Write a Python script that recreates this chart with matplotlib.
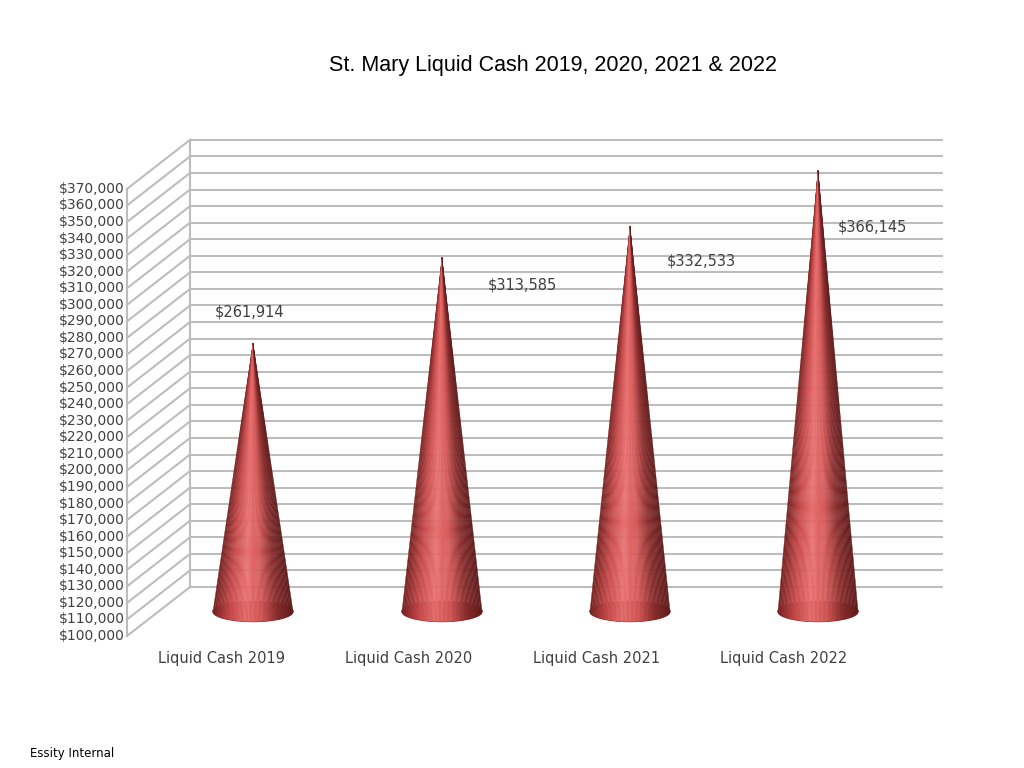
import numpy as np
import matplotlib.pyplot as plt
from matplotlib.patches import Polygon, Ellipse
from matplotlib.colors import LinearSegmentedColormap

categories = ["Liquid Cash 2019", "Liquid Cash 2020", "Liquid Cash 2021", "Liquid Cash 2022"]
values = [261914, 313585, 332533, 366145]
value_labels = ["$261,914", "$313,585", "$332,533", "$366,145"]
ticks = list(range(100000, 370001, 10000))

# pixel layout of the fake 3d box
Y0, PX_PER_10K = 636, 16.56
AX_X, BACK_X, BACK_R = 127, 190, 942
DEPTH_DX, DEPTH_DY = 63, -49
cone_x = [253, 442, 630, 818]
label_pos = [(250, 312), (522, 285), (701, 261), (872, 227)]


def yval(v):
    return Y0 - (v - 100000) / 10000 * PX_PER_10K


fig = plt.figure(figsize=(10.24, 7.68), dpi=100)
ax = fig.add_axes([0, 0, 1, 1])
ax.set_xlim(0, 1024)
ax.set_ylim(768, 0)
ax.axis('off')

grid_c = '#bdbdbd'
for t in ticks:
    y = yval(t)
    ax.plot([AX_X, BACK_X], [y, y + DEPTH_DY], color=grid_c, lw=1.5)
    ax.plot([BACK_X, BACK_R], [y + DEPTH_DY, y + DEPTH_DY], color=grid_c, lw=1.5)
    ax.text(AX_X - 2, y, "${:,}".format(t), ha='right', va='center', fontsize=10, color='#404040')
ax.plot([AX_X, AX_X], [yval(ticks[0]), yval(ticks[-1])], color=grid_c, lw=1.5)
ax.plot([BACK_X, BACK_X], [yval(ticks[0]) + DEPTH_DY, yval(ticks[-1]) + DEPTH_DY], color=grid_c, lw=1.5)

cmap = LinearSegmentedColormap.from_list('cone', ['#7a2424', '#c94b4b', '#e87070', '#d65a5a', '#8a2e2e', '#5e1a1a'])
half_w, ell_h, n = 40, 20, 60
for cx, v in zip(cone_x, values):
    base_y = Y0 + DEPTH_DY / 2
    tip_y = yval(v) + DEPTH_DY / 2
    ax.add_patch(Ellipse((cx, base_y), 2 * half_w, ell_h, color='#6e2020', zorder=3))
    xs = np.linspace(-half_w, half_w, n + 1)
    for i in range(n):
        x1, x2 = xs[i], xs[i + 1]
        yb1 = base_y + ell_h / 2 * np.sqrt(max(0, 1 - (x1 / half_w) ** 2))
        yb2 = base_y + ell_h / 2 * np.sqrt(max(0, 1 - (x2 / half_w) ** 2))
        ax.add_patch(Polygon([(cx, tip_y), (cx + x1, yb1), (cx + x2, yb2)], closed=True,
                             color=cmap(i / n), lw=0.3, zorder=4))

for (lx, ly), lab in zip(label_pos, value_labels):
    ax.text(lx, ly, lab, ha='center', va='center', fontsize=10.5, color='#404040', zorder=5)

for cx, c in zip([222, 409, 597, 784], categories):
    ax.text(cx, 658, c, ha='center', va='center', fontsize=10.5, color='#404040')

ax.text(553, 65, "St. Mary Liquid Cash 2019, 2020, 2021 & 2022", ha='center', va='center', fontsize=15.5,
        family='Liberation Sans')
ax.text(30, 754, "Essity Internal", ha='left', va='center', fontsize=8.5)

fig.savefig('out.png', dpi=100)
